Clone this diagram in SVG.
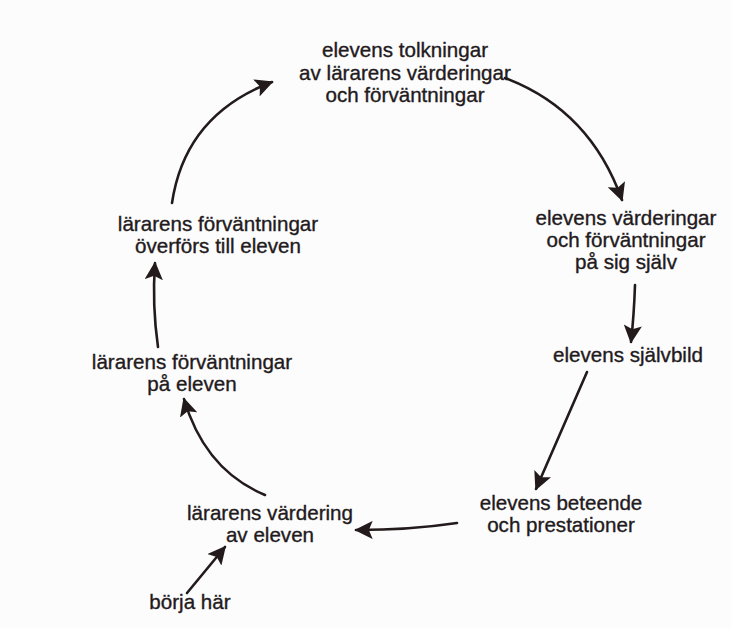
<svg xmlns="http://www.w3.org/2000/svg" width="731" height="628" viewBox="0 0 731 628">
<defs>
<marker id="ah" viewBox="0 0 12 12" refX="11" refY="6" markerWidth="7" markerHeight="7" markerUnits="strokeWidth" orient="auto">
<path d="M0,0 L12,6 L0,12 L2.5,6 Z" fill="#231a1c"/>
</marker>
<style>
text{font-family:"Liberation Sans",Arial,sans-serif;font-size:20.6px;fill:#231a1c;stroke:#231a1c;stroke-width:0.35;text-anchor:middle}
.c{fill:none;stroke:#231a1c;stroke-width:2.6;stroke-linecap:round;marker-end:url(#ah)}
</style>
</defs>
<rect width="731" height="628" fill="#fcfcfc"/>
<g id="n1"><text x="405" y="57">elevens tolkningar</text><text x="405" y="79.5">av lärarens värderingar</text><text x="405" y="102">och förväntningar</text></g>
<g id="n2"><text x="626" y="225">elevens värderingar</text><text x="626" y="247">och förväntningar</text><text x="626" y="269">på sig själv</text></g>
<g id="n3"><text x="628" y="362">elevens självbild</text></g>
<g id="n4"><text x="561" y="510">elevens beteende</text><text x="561" y="532">och prestationer</text></g>
<g id="n5"><text x="270" y="520">lärarens värdering</text><text x="270" y="542">av eleven</text></g>
<g id="n6"><text x="190" y="609">börja här</text></g>
<g id="n7"><text x="192" y="369">lärarens förväntningar</text><text x="192" y="391">på eleven</text></g>
<g id="n8"><text x="218" y="231">lärarens förväntningar</text><text x="218" y="253">överförs till eleven</text></g>
<g id="connectors">
<path class="c" d="M505,78 Q590,110 622,200"/>
<path class="c" d="M635,285 Q634,315 631,342"/>
<path class="c" d="M587,372 L536,489"/>
<path class="c" d="M457,523 Q410,530 356,530"/>
<path class="c" d="M187,593 L225,547"/>
<path class="c" d="M265,495 Q205,470 184,399"/>
<path class="c" d="M158,347 Q152,305 155,263"/>
<path class="c" d="M172,203 Q185,115 272,82"/>
</g>
</svg>
